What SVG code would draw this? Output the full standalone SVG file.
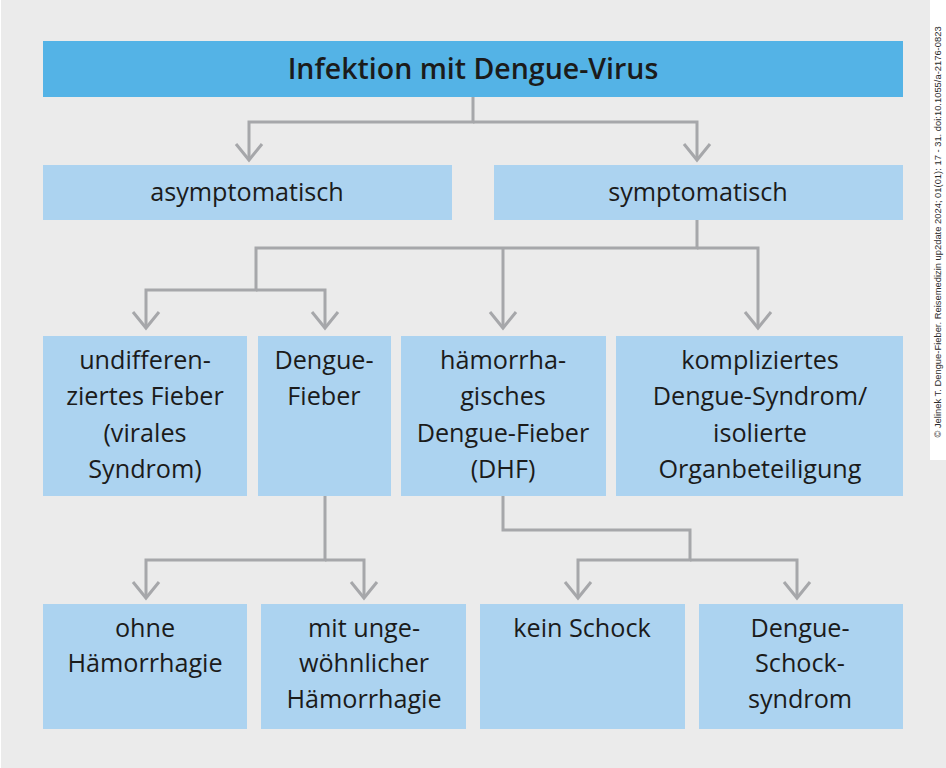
<svg xmlns="http://www.w3.org/2000/svg" width="946" height="768" viewBox="0 0 946 768">
<style>
.bg{fill:#ebebeb}
.hdr{fill:#54b3e6}
.box{fill:#acd3f0}
.t{font-family:"Open Sans","Noto Sans","DejaVu Sans",sans-serif;font-size:25.2px;fill:#1b1b1b;text-anchor:middle}
.th{font-family:"Open Sans","Noto Sans","DejaVu Sans",sans-serif;font-size:28.5px;font-weight:600;fill:#1b1b1b;text-anchor:middle}
.c{fill:none;stroke:#a6a7aa;stroke-width:3}
.cr{font-family:"Liberation Sans",Arial,sans-serif;font-size:9.4px;fill:#2a2a2a;text-anchor:middle}
</style>
<defs>
<marker id="v" markerUnits="userSpaceOnUse" viewBox="-20 -16 24 32" refX="0" refY="0" markerWidth="24" markerHeight="32" orient="auto" overflow="visible">
<path d="M-16,-13 L0,0 L-16,13" fill="none" stroke="#a6a7aa" stroke-width="3"/>
</marker>
</defs>
<rect class="bg" x="0" y="0" width="946" height="768"/>
<rect x="0" y="0" width="1" height="768" fill="#ffffff"/>
<rect x="930" y="0" width="16" height="460" fill="#ffffff"/>
<text class="cr" transform="translate(941,232) rotate(-90)">© Jelinek T. Dengue-Fieber. Reisemedizin up2date 2024; 01(01): 17 - 31. doi:10.1055/a-2176-0823</text>

<g id="connectors">
<polyline class="c" points="473,97 473,122 249,122 249,160" marker-end="url(#v)"/>
<polyline class="c" points="473,122 697,122 697,160" marker-end="url(#v)"/>
<polyline class="c" points="697,220 697,248 256,248 256,290 146,290 146,328" marker-end="url(#v)"/>
<polyline class="c" points="256,290 325,290 325,328" marker-end="url(#v)"/>
<polyline class="c" points="503,248 503,328" marker-end="url(#v)"/>
<polyline class="c" points="697,248 758,248 758,328" marker-end="url(#v)"/>
<polyline class="c" points="325,496 325,560 146,560 146,598" marker-end="url(#v)"/>
<polyline class="c" points="325,560 364,560 364,598" marker-end="url(#v)"/>
<polyline class="c" points="503,496 503,530 690,530 690,560 578,560 578,598" marker-end="url(#v)"/>
<polyline class="c" points="690,560 797,560 797,598" marker-end="url(#v)"/>
</g>

<g id="n-infektion">
<rect class="hdr" x="43" y="41" width="860" height="56"/>
<text class="th" x="473" y="79">Infektion mit Dengue-Virus</text>
</g>
<g id="n-asymptomatisch">
<rect class="box" x="43" y="165" width="409" height="55"/>
<text class="t" x="247" y="201">asymptomatisch</text>
</g>
<g id="n-symptomatisch">
<rect class="box" x="494" y="165" width="409" height="55"/>
<text class="t" x="698" y="201">symptomatisch</text>
</g>
<g id="n-undifferenziert">
<rect class="box" x="43" y="336" width="204" height="160"/>
<text class="t" x="145" y="369">undifferen-</text>
<text class="t" x="145" y="405">ziertes Fieber</text>
<text class="t" x="145" y="442">(virales</text>
<text class="t" x="145" y="478">Syndrom)</text>
</g>
<g id="n-denguefieber">
<rect class="box" x="258" y="336" width="133" height="160"/>
<text class="t" x="324" y="369">Dengue-</text>
<text class="t" x="324" y="405">Fieber</text>
</g>
<g id="n-dhf">
<rect class="box" x="401" y="336" width="205" height="160"/>
<text class="t" x="503" y="369">hämorrha-</text>
<text class="t" x="503" y="405">gisches</text>
<text class="t" x="503" y="442">Dengue-Fieber</text>
<text class="t" x="503" y="478">(DHF)</text>
</g>
<g id="n-kompliziert">
<rect class="box" x="616" y="336" width="287" height="160"/>
<text class="t" x="760" y="369">kompliziertes</text>
<text class="t" x="760" y="405">Dengue-Syndrom/</text>
<text class="t" x="760" y="442">isolierte</text>
<text class="t" x="760" y="478">Organbeteiligung</text>
</g>
<g id="n-ohne">
<rect class="box" x="43" y="604" width="204" height="125"/>
<text class="t" x="145" y="637">ohne</text>
<text class="t" x="145" y="672">Hämorrhagie</text>
</g>
<g id="n-mit">
<rect class="box" x="261" y="604" width="205" height="125"/>
<text class="t" x="364" y="637">mit unge-</text>
<text class="t" x="364" y="672">wöhnlicher</text>
<text class="t" x="364" y="708">Hämorrhagie</text>
</g>
<g id="n-keinschock">
<rect class="box" x="480" y="604" width="205" height="125"/>
<text class="t" x="582" y="637">kein Schock</text>
</g>
<g id="n-schocksyndrom">
<rect class="box" x="699" y="604" width="204" height="125"/>
<text class="t" x="800" y="637">Dengue-</text>
<text class="t" x="800" y="672">Schock-</text>
<text class="t" x="800" y="708">syndrom</text>
</g>
</svg>
